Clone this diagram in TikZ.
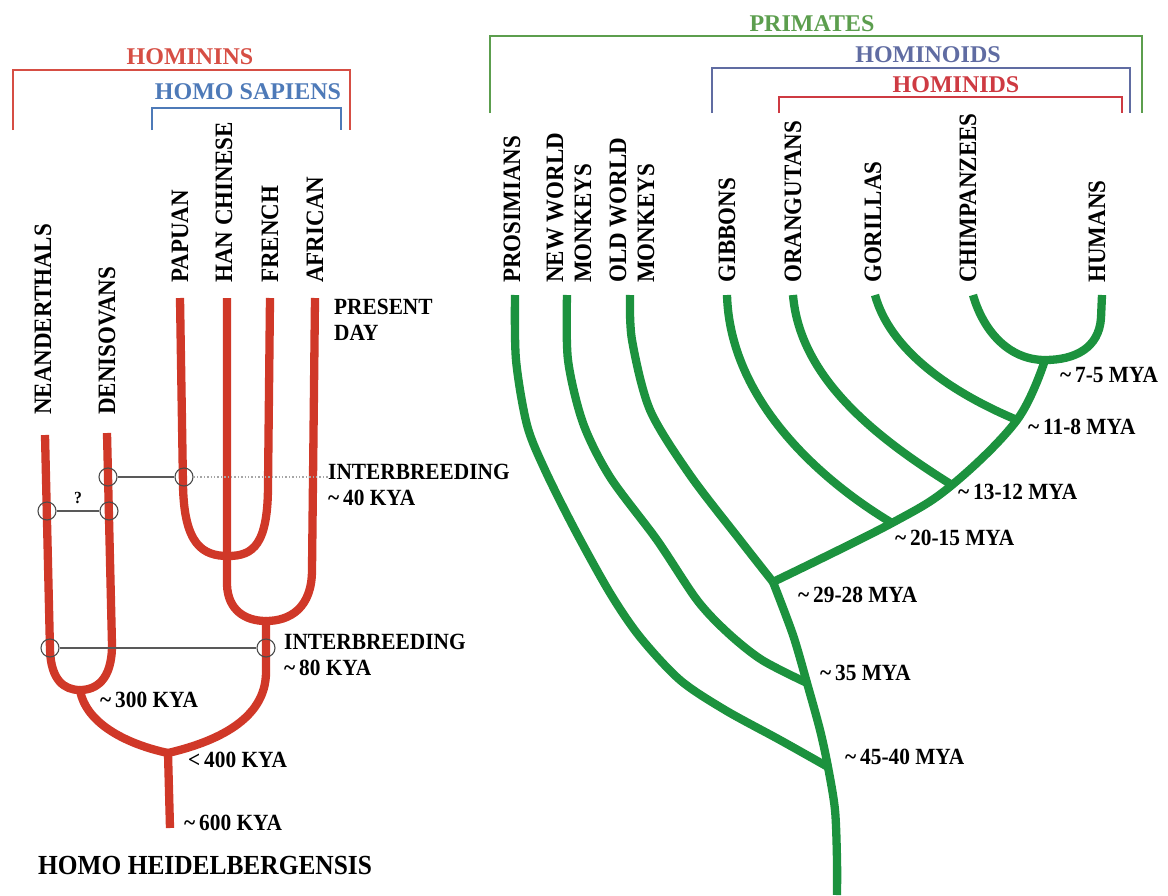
\documentclass[tikz,border=0pt]{standalone}
\usepackage{fontspec}
\setmainfont{Liberation Serif}
\newfontfamily\narrowserif{Liberation Serif}[FakeStretch=0.92]
\usetikzlibrary{positioning}
\definecolor{hred}{RGB}{208,56,40}
\definecolor{pgreen}{RGB}{28,146,62}
\definecolor{hbred}{RGB}{214,78,68}
\definecolor{hsblue}{RGB}{78,122,184}
\definecolor{prgreen}{RGB}{92,158,78}
\definecolor{hoblue}{RGB}{96,108,162}
\definecolor{hired}{RGB}{206,58,66}

\begin{document}
\begin{tikzpicture}[
  x=1pt, y=-1pt,
  hom/.style={line width=8.3pt, draw=hred, line join=round},
  pri/.style={line width=8.3pt, draw=pgreen, line join=round},
  lbl/.style={rotate=90, anchor=west, inner sep=0pt, align=left,
              font=\narrowserif\bfseries\fontsize{25}{28}\selectfont},
  age/.style={anchor=west, inner sep=0pt, align=left,
              font=\narrowserif\bfseries\fontsize{23.2}{26}\selectfont},
  ttl/.style={inner sep=0pt, font=\bfseries\fontsize{24}{28}\selectfont},
  brk/.style={line width=1.8pt},
  ring/.style={circle, draw=black!70, line width=1.1pt,
               minimum size=18pt, inner sep=0pt},
  link/.style={draw=black!65, line width=1.4pt},
  hint/.style={draw=black!35, line width=1.4pt, dotted},
  qm/.style={inner sep=0pt, font=\narrowserif\bfseries\fontsize{17}{18}\selectfont}
]
\useasboundingbox (0,0) rectangle (1168,895);

% hominins
\coordinate (neaT) at (45,435);
\coordinate (denT) at (107,433);
\coordinate (papT) at (180,298);
\coordinate (hanT) at (227,298);
\coordinate (freT) at (270,298);
\coordinate (afrT) at (315,298);
\coordinate (pfJ) at (228,556);
\coordinate (haJ) at (266,621);
\coordinate (ndJ) at (80,690);
\coordinate (hhJ) at (168,753);
\coordinate (hhB) at (170,828);

\draw[hom] (papT) -- (183,485) .. controls (184,545) and (203,556) .. (pfJ);
\draw[hom] (freT) -- (268,485) .. controls (268,545) and (253,556) .. (pfJ);
\draw[hom] (hanT) -- (227,585) .. controls (228,610) and (245,621) .. (haJ);
\draw[hom] (afrT) -- (312,570) .. controls (312,608) and (290,621) .. (haJ);
\draw[hom] (neaT) -- (50,650) .. controls (51,680) and (64,690) .. (ndJ);
\draw[hom] (denT) -- (112,645) .. controls (112,680) and (96,690) .. (ndJ);
\draw[hom, line cap=round] (haJ) -- (266,672) .. controls (266,720) and (215,742) .. (hhJ);
\draw[hom, line cap=round] (ndJ) .. controls (86,725) and (130,745) .. (hhJ);
\draw[hom] (hhJ) -- (hhB);

\node[age] (ib40) at (328,485) {INTERBREEDING\\\textasciitilde\,40 KYA};
\node[age] (ib80) at (284,655) {INTERBREEDING\\\textasciitilde\,80 KYA};
\node[age] (today) at (334,320) {PRESENT\\DAY};
\node[age] (k300) at (100,700) {\textasciitilde\,300 KYA};
\node[age] (k400) at (188,760) {<\,400 KYA};
\node[age] (k600) at (184,823) {\textasciitilde\,600 KYA};
\node[age, font=\narrowserif\bfseries\fontsize{27.6}{30}\selectfont] (heid)
  at (38,865) {HOMO HEIDELBERGENSIS};

\node[ring] (d40) at (108,477) {};
\node[ring] (p40) at (184,477) {};
\node[ring] (n50) at (47,511) {};
\node[ring] (d50) at (109,511) {};
\node[ring] (n80) at (50,648) {};
\node[ring] (s80) at (266,648) {};
\draw[link] (d40) -- (p40);
\draw[link] (n50) -- (d50);
\draw[link] (n80) -- (s80);
\draw[hint] (p40) -- (p40 -| ib40.west);
\node[qm] (qmark) at (78,498) {?};

\node[lbl] (nea) at (43,415) {NEANDERTHALS};
\node[lbl] (den) at (107,415) {DENISOVANS};
\node[lbl] (pap) at (180,283) {PAPUAN};
\node[lbl] (han) at (224,283) {HAN CHINESE};
\node[lbl] (fre) at (270,283) {FRENCH};
\node[lbl] (afr) at (315,283) {AFRICAN};

\draw[brk, draw=hbred] (13,130) |- (350,70) -- (350,130);
\node[ttl, text=hbred] (hominins) at (190,57) {HOMININS};
\draw[brk, draw=hsblue] (152,130) |- (341,108) -- (341,130);
\node[ttl, text=hsblue] (sapiens) at (248,92) {HOMO SAPIENS};

% primates
\coordinate (proT) at (515,295);
\coordinate (nwmT) at (567,295);
\coordinate (owmT) at (630,295);
\coordinate (gibT) at (727,295);
\coordinate (oraT) at (793,295);
\coordinate (gorT) at (875,295);
\coordinate (chiT) at (973,295);
\coordinate (humT) at (1102,295);
\coordinate (m7) at (1045,360);
\coordinate (m11) at (1017,420);
\coordinate (m13) at (952,485);
\coordinate (m20) at (892,523);
\coordinate (m29) at (773,582);
\coordinate (m35) at (807,683);
\coordinate (m45) at (828,767);
\coordinate (root) at (837,895);

\draw[pri] (humT) -- (1101,318) .. controls (1099,348) and (1075,360) .. (m7);
\draw[pri] (chiT) .. controls (983,330) and (1008,360) .. (m7);
\draw[pri] (gorT) .. controls (890,350) and (950,392) .. (m11);
\draw[pri] (oraT) .. controls (800,380) and (880,440) .. (m13);
\draw[pri] (gibT) .. controls (730,400) and (820,480) .. (m20);
\draw[pri] plot[smooth, tension=0.6] coordinates {(m7) (m11) (m13) (m20) (m29)};
\draw[pri] plot[smooth] coordinates
  {(owmT) (632,340) (650,410) (690,475) (740,540) (m29)};
\draw[pri] plot[smooth] coordinates
  {(m29) (793,635) (m35) (820,730) (m45) (835,810) (837,860) (root)};
\draw[pri] plot[smooth] coordinates
  {(nwmT) (568,360) (583,423) (610,477) (657,540) (697,600) (728,633)
   (762,660) (m35)};
\draw[pri] plot[smooth] coordinates
  {(proT) (516,360) (527,425) (545,470) (575,530) (610,593) (640,637)
   (680,680) (725,710) (780,740) (m45)};

\node[age] (a7) at (1060,375) {\textasciitilde\,7-5 MYA};
\node[age] (a11) at (1028,427) {\textasciitilde\,11-8 MYA};
\node[age] (a13) at (958,492) {\textasciitilde\,13-12 MYA};
\node[age] (a20) at (895,538) {\textasciitilde\,20-15 MYA};
\node[age] (a29) at (798,595) {\textasciitilde\,29-28 MYA};
\node[age] (a35) at (820,673) {\textasciitilde\,35 MYA};
\node[age] (a45) at (845,757) {\textasciitilde\,45-40 MYA};

\node[lbl] (pro) at (512,283) {PROSIMIANS};
\node[lbl] (nwm) at (569,283) {NEW WORLD\\MONKEYS};
\node[lbl] (owm) at (632,283) {OLD WORLD\\MONKEYS};
\node[lbl] (gib) at (727,283) {GIBBONS};
\node[lbl] (ora) at (793,283) {ORANGUTANS};
\node[lbl] (gor) at (873,283) {GORILLAS};
\node[lbl] (chi) at (968,283) {CHIMPANZEES};
\node[lbl] (hum) at (1097,283) {HUMANS};

\draw[brk, draw=prgreen] (490,113) |- (1142,36) -- (1142,113);
\node[ttl, text=prgreen] (primates) at (812,24) {PRIMATES};
\draw[brk, draw=hoblue] (712,113) |- (1130,68) -- (1130,113);
\node[ttl, text=hoblue] (hominoids) at (928,55) {HOMINOIDS};
\draw[brk, draw=hired] (779,113) |- (1122,97) -- (1122,113);
\node[ttl, text=hired] (hominids) at (956,85) {HOMINIDS};
\end{tikzpicture}
\end{document}
